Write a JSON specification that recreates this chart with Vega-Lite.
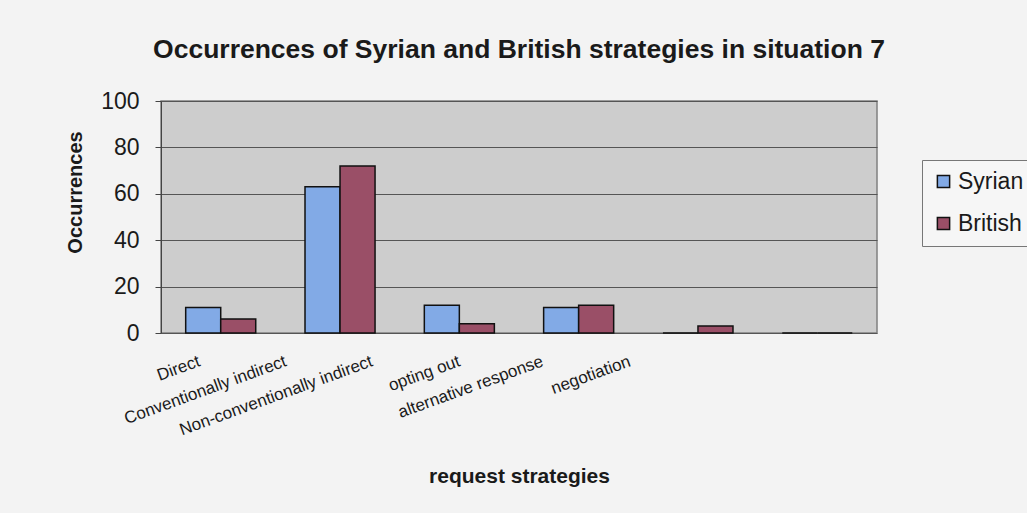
{
  "$schema": "https://vega.github.io/schema/vega-lite/v6.json",
  "autosize": "none",
  "width": 716,
  "height": 232,
  "padding": {"left": 161, "top": 101, "right": 150, "bottom": 180},
  "background": "#f3f3f3",
  "title": {
    "text": "Occurrences of Syrian and British strategies in situation 7",
    "font": "Liberation Sans",
    "fontSize": 26.5,
    "fontWeight": "bold",
    "color": "#1a1a1a",
    "anchor": "middle",
    "offset": 27
  },
  "data": {
    "values": [
      {"strategy": "Direct", "group": "Syrian", "occurrences": 11},
      {"strategy": "Direct", "group": "British", "occurrences": 6},
      {"strategy": "Conventionally indirect", "group": "Syrian", "occurrences": 63},
      {"strategy": "Conventionally indirect", "group": "British", "occurrences": 72},
      {"strategy": "Non-conventionally indirect", "group": "Syrian", "occurrences": 12},
      {"strategy": "Non-conventionally indirect", "group": "British", "occurrences": 4},
      {"strategy": "opting out", "group": "Syrian", "occurrences": 11},
      {"strategy": "opting out", "group": "British", "occurrences": 12},
      {"strategy": "alternative response", "group": "Syrian", "occurrences": 0},
      {"strategy": "alternative response", "group": "British", "occurrences": 3},
      {"strategy": "negotiation", "group": "Syrian", "occurrences": 0},
      {"strategy": "negotiation", "group": "British", "occurrences": 0}
    ]
  },
  "mark": {"type": "bar", "stroke": "#111111", "strokeWidth": 1.5},
  "encoding": {
    "x": {
      "field": "strategy",
      "type": "nominal",
      "sort": null,
      "scale": {"paddingInner": 0.413, "paddingOuter": 0.207},
      "axis": {
        "title": "request strategies",
        "titleFont": "Liberation Sans",
        "titleFontSize": 21,
        "titleFontWeight": "bold",
        "titleColor": "#1a1a1a",
        "titleBaseline": "middle",
        "titleY": 143,
        "labelAngle": -20,
        "labelAlign": "right",
        "labelBaseline": "top",
        "labelPadding": 20,
        "labelFont": "Liberation Sans",
        "labelFontSize": 17,
        "labelColor": "#1a1a1a",
        "labelOverlap": false,
        "labelBound": false,
        "labelLimit": 0,
        "labelOffset": {
          "condition": [
            {"test": "datum.value == 'Direct'", "value": -24},
            {"test": "datum.value == 'Conventionally indirect'", "value": -57},
            {"test": "datum.value == 'Non-conventionally indirect'", "value": -90},
            {"test": "datum.value == 'opting out'", "value": -122},
            {"test": "datum.value == 'alternative response'", "value": -158}
          ],
          "value": -190
        },
        "ticks": false,
        "domain": false,
        "grid": false
      }
    },
    "xOffset": {"field": "group", "type": "nominal", "sort": ["Syrian", "British"]},
    "y": {
      "field": "occurrences",
      "type": "quantitative",
      "scale": {"domain": [0, 100]},
      "axis": {
        "title": "Occurrences",
        "titleFont": "Liberation Sans",
        "titleFontSize": 20,
        "titleFontWeight": "bold",
        "titleColor": "#1a1a1a",
        "titleAngle": -90,
        "titleBaseline": "middle",
        "titleAlign": "center",
        "titleX": -86,
        "titleY": 91,
        "values": [0, 20, 40, 60, 80, 100],
        "labelFont": "Liberation Sans",
        "labelFontSize": 23,
        "labelColor": "#1a1a1a",
        "labelPadding": 16,
        "tickSize": 6,
        "tickColor": "#444444",
        "domainColor": "#444444",
        "grid": true,
        "gridColor": "#555555",
        "gridWidth": 1
      }
    },
    "color": {
      "field": "group",
      "type": "nominal",
      "sort": ["Syrian", "British"],
      "scale": {"domain": ["Syrian", "British"], "range": ["#82aae6", "#9a4f67"]},
      "legend": {
        "title": null,
        "orient": "none",
        "legendX": 761,
        "legendY": 59,
        "symbolType": "square",
        "symbolSize": 150,
        "symbolStrokeColor": "#111111",
        "symbolStrokeWidth": 1.5,
        "labelFont": "Liberation Sans",
        "labelFontSize": 23,
        "labelColor": "#1a1a1a",
        "labelOffset": 3,
        "rowPadding": 18,
        "padding": 10,
        "strokeColor": "#777777",
        "fillColor": "#f6f6f6"
      }
    }
  },
  "config": {
    "view": {"fill": "#cdcdcd", "stroke": "#808080", "strokeWidth": 1.5}
  }
}
